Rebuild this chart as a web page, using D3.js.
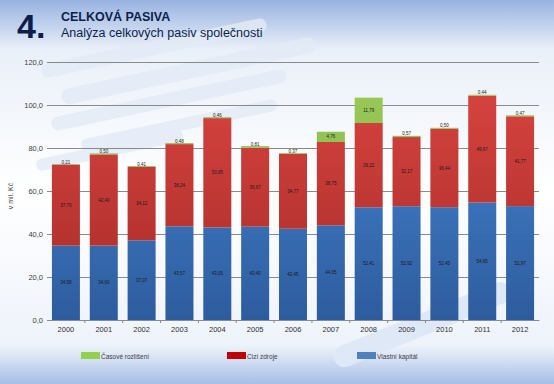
<!DOCTYPE html>
<html>
<head>
<meta charset="utf-8">
<script src="https://cdn.jsdelivr.net/npm/d3@7"></script>
<style>
  body { margin: 0; padding: 0; overflow: hidden; }
  svg { display: block; font-family: "Liberation Sans", Arial, sans-serif; }
</style>
</head>
<body>
<svg id="chart" width="554" height="384"></svg>
<script>
// data (mil. Kč)
const years = ["2000","2001","2002","2003","2004","2005","2006","2007","2008","2009","2010","2011","2012"];
const vlastniKapital = [34.58, 34.60, 37.07, 43.57, 43.05, 43.40, 42.45, 44.05, 52.41, 52.92, 52.45, 54.65, 52.97];
const ciziZdroje = [37.70, 42.40, 34.12, 38.24, 50.85, 36.67, 34.77, 38.75, 39.22, 32.17, 36.44, 49.67, 41.77];
const casoveRozliseni = [0.21, 0.50, 0.41, 0.48, 0.46, 0.81, 0.37, 4.76, 11.79, 0.57, 0.50, 0.44, 0.47];
const yTicks = [0, 20, 40, 60, 80, 100, 120];

const seriesKeys = ["vlastni", "cizi", "casove"];
const seriesNames = {vlastni: "Vlastní kapitál", cizi: "Cizí zdroje", casove: "Časové rozlišení"};

const table = years.map((y, i) => ({
    year: y,
    vlastni: vlastniKapital[i],
    cizi: ciziZdroje[i],
    casove: casoveRozliseni[i]
}));

const svg = d3.select("#chart"),
    width = 554,
    height = 384,
    margin = {top: 62, right: 15, bottom: 64, left: 47};

const fmt = v => v.toFixed(2).replace(".", ",");
const fmtTick = v => v.toFixed(1).replace(".", ",");

// background
const defs = svg.append("defs");
const bg = defs.append("linearGradient").attr("id", "bg").attr("x1", 0).attr("y1", 0).attr("x2", 0).attr("y2", 1);
bg.append("stop").attr("offset", "0").attr("stop-color", "#98b3e0");
bg.append("stop").attr("offset", "0.13").attr("stop-color", "#eaf0f9");
bg.append("stop").attr("offset", "0.5").attr("stop-color", "#ffffff");
bg.append("stop").attr("offset", "0.9").attr("stop-color", "#eef3fb");
bg.append("stop").attr("offset", "1").attr("stop-color", "#a6bde6");
svg.append("rect").attr("width", width).attr("height", height).attr("fill", "url(#bg)");

// faint decorative swooshes
const deco = svg.append("g").attr("fill", "#e3ebf7").attr("opacity", 0.8);
[[40, 65, 230, 14], [60, 90, 260, 16], [50, 118, 240, 14], [80, 140, 200, 12], [35, 160, 150, 12]].forEach(d => {
    deco.append("rect").attr("x", d[0]).attr("y", d[1]).attr("width", d[2]).attr("height", d[3])
        .attr("rx", d[3] / 2).attr("transform", `rotate(-12 ${d[0]} ${d[1]})`);
});
svg.append("rect").attr("x", 330).attr("y", 350).attr("width", 190).attr("height", 22).attr("rx", 11)
    .attr("fill", "#dfe8f6").attr("transform", "rotate(-22 330 350)");

// header
svg.append("text").attr("x", 17).attr("y", 38).attr("font-size", 34).attr("font-weight", "bold")
    .attr("fill", "#0b1f4d").text("4.");
svg.append("text").attr("x", 61).attr("y", 21).attr("font-size", 12.5).attr("font-weight", "bold")
    .attr("fill", "#0b1f4d").text("CELKOVÁ PASIVA");
svg.append("text").attr("x", 61).attr("y", 37).attr("font-size", 12.5)
    .attr("fill", "#0b1f4d").text("Analýza celkových pasiv společnosti");

// scales
const x = d3.scaleBand()
    .domain(years)
    .range([margin.left, width - margin.right])
    .paddingInner(0.26)
    .paddingOuter(0.13);

const y = d3.scaleLinear()
    .domain([0, 120])
    .range([height - margin.bottom, margin.top]);

// gridlines + y axis labels
svg.append("g")
    .attr("transform", "translate(" + margin.left + ",0)")
    .call(d3.axisLeft(y).tickValues(yTicks).tickFormat(fmtTick)
        .tickSize(-(width - margin.right - margin.left)).tickPadding(4))
    .call(g => g.select(".domain").remove())
    .call(g => g.selectAll(".tick line").attr("stroke", "#8a8a8a").attr("stroke-width", 1))
    .call(g => g.selectAll(".tick text").attr("fill", "#404040").attr("font-size", 7.5)
        .attr("font-family", "Liberation Sans, Arial, sans-serif"));

svg.append("text")
    .attr("transform", "translate(13," + 196 + ") rotate(-90)")
    .attr("text-anchor", "middle")
    .attr("font-size", 7)
    .attr("fill", "#404040")
    .text("v mil. Kč");

// gradients for bars
function grad(id, top, bottom) {
    const g = defs.append("linearGradient").attr("id", id)
        .attr("gradientUnits", "userSpaceOnUse")
        .attr("x1", 0).attr("y1", margin.top).attr("x2", 0).attr("y2", height - margin.bottom);
    g.append("stop").attr("offset", "0").attr("stop-color", top);
    g.append("stop").attr("offset", "1").attr("stop-color", bottom);
}
grad("g-vlastni", "#4a8ad8", "#2d5c9e");
grad("g-cizi", "#dc4642", "#a62b28");
grad("g-casove", "#9ccc5c", "#7aab3c");

const colors = d3.scaleOrdinal()
    .domain(seriesKeys)
    .range(["url(#g-vlastni)", "url(#g-cizi)", "url(#g-casove)"]);

const series = d3.stack().keys(seriesKeys)(table);

const layers = svg.append("g")
    .attr("class", "bar")
    .selectAll("g")
    .data(series)
    .enter()
    .append("g")
    .attr("fill", d => colors(d.key));

layers.selectAll("rect")
    .data(d => d)
    .enter()
    .append("rect")
    .attr("x", d => x(d.data.year))
    .attr("y", d => y(d[1]))
    .attr("width", x.bandwidth())
    .attr("height", d => y(d[0]) - y(d[1]));

// data labels
series.forEach(s => {
    svg.append("g").selectAll("text")
        .data(s)
        .enter()
        .append("text")
        .attr("x", d => x(d.data.year) + x.bandwidth() / 2)
        .attr("y", d => {
            const h = y(d[0]) - y(d[1]);
            if (h < 6) return y(d[1]) - 0.5;
            return (y(d[0]) + y(d[1])) / 2 + 1.5;
        })
        .attr("text-anchor", "middle")
        .attr("font-size", 4.5)
        .attr("fill", "#1a1a1a")
        .text(d => fmt(d.data[s.key]));
});

// x axis
svg.append("g")
    .attr("transform", "translate(0," + y(0) + ")")
    .call(d3.axisBottom(x).tickSize(0).tickPadding(7))
    .call(g => g.select(".domain").attr("stroke", "#8a8a8a"))
    .call(g => g.selectAll(".tick text").attr("fill", "#303030").attr("font-size", 7.5)
        .attr("font-family", "Liberation Sans, Arial, sans-serif"));

// small separators between categories
svg.append("g").selectAll("line")
    .data(years.slice(1))
    .enter()
    .append("line")
    .attr("x1", d => x(d) - x.step() * x.paddingInner() / 2)
    .attr("x2", d => x(d) - x.step() * x.paddingInner() / 2)
    .attr("y1", y(0))
    .attr("y2", y(0) + 3)
    .attr("stroke", "#8a8a8a");

// legend
const legendItems = [
    {key: "casove", x: 81, color: "#92d050"},
    {key: "cizi", x: 227, color: "#c00000"},
    {key: "vlastni", x: 357, color: "#4f81bd"}
];
const legend = svg.append("g");
legendItems.forEach(it => {
    legend.append("rect").attr("x", it.x).attr("y", 352).attr("width", 19).attr("height", 7).attr("fill", it.color);
    legend.append("text").attr("x", it.x + 20).attr("y", 358.5).attr("font-size", 6.5)
        .attr("fill", "#404040").text(seriesNames[it.key]);
});
</script>
</body>
</html>
